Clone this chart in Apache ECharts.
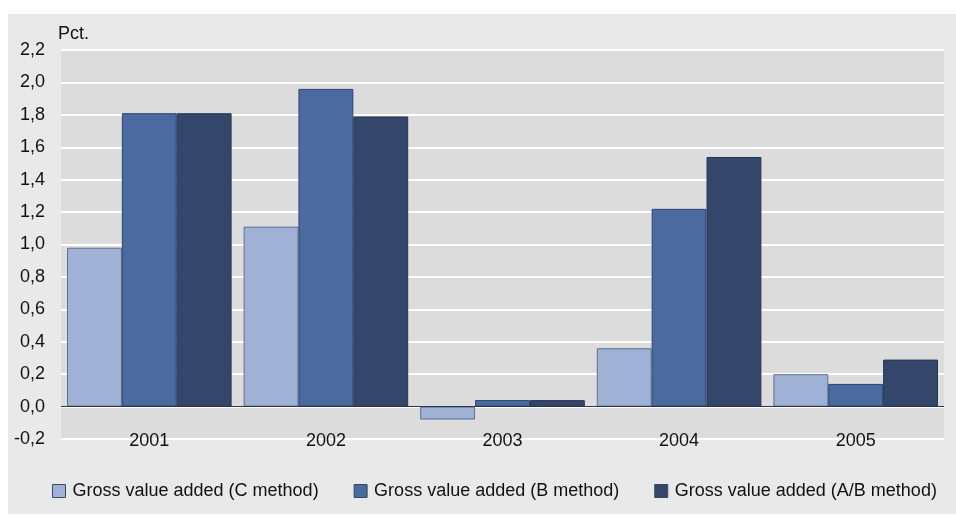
<!DOCTYPE html>
<html>
<head>
<meta charset="utf-8">
<script src="https://cdn.jsdelivr.net/npm/echarts@6/dist/echarts.min.js"></script>
<style>
  html, body { margin: 0; padding: 0; background: #ffffff; width: 956px; height: 516px; overflow: hidden; }
  #chart { position: absolute; left: 8px; top: 14px; width: 948px; height: 500px; background: #e9e9e9; }
</style>
</head>
<body>
<div id="chart"></div>
<script>
// Annual growth, per cent
const years = ['2001', '2002', '2003', '2004', '2005'];
const gvaC = [0.98, 1.11, -0.08, 0.36, 0.20];
const gvaB = [1.81, 1.96, 0.04, 1.22, 0.14];
const gvaAB = [1.81, 1.79, 0.04, 1.54, 0.29];
const seriesNames = [
  'Gross value added (C method)',
  'Gross value added (B method)',
  'Gross value added (A/B method)'
];
const yMin = -0.2, yMax = 2.2, yStep = 0.2;

const FONT = '"Liberation Sans", Arial, sans-serif';
const fills = ['#9fb1d5', '#4b6aa0', '#34476b'];
const edges = ['#5f6f92', '#2c4270', '#253657'];

const chart = echarts.init(document.getElementById('chart'), null, { renderer: 'canvas' });

function bar(name, data, i) {
  const s = {
    name: name,
    type: 'bar',
    data: data,
    barGap: '0%',
    barCategoryGap: '6.8%',
    itemStyle: { color: fills[i], borderColor: edges[i], borderWidth: 1 },
    emphasis: { disabled: true }
  };
  if (i === 0) {
    // dark zero line across the plot
    s.markLine = {
      silent: true,
      symbol: ['none', 'none'],
      label: { show: false },
      lineStyle: { color: '#2a3550', width: 1, type: 'solid' },
      data: [{ yAxis: 0 }]
    };
  }
  return s;
}

chart.setOption({
  animation: false,
  textStyle: { fontFamily: FONT },
  title: {
    text: 'Pct.',
    left: 45, top: 6,
    textStyle: { fontFamily: FONT, fontSize: 18, fontWeight: 'normal', color: '#111' }
  },
  grid: {
    left: 53, right: 12, top: 36, bottom: 75,
    show: true, backgroundColor: '#dcdcdc', borderWidth: 0
  },
  legend: {
    left: 39, top: 463,
    itemWidth: 13, itemHeight: 13, itemGap: 35,
    icon: 'rect',
    itemStyle: { borderColor: '#3a4766', borderWidth: 1 },
    textStyle: { fontFamily: FONT, fontSize: 18, color: '#111', padding: [0, 0, 0, 2] },
    data: seriesNames
  },
  xAxis: {
    type: 'category',
    data: years,
    axisLine: { show: false, onZero: false },
    axisTick: { show: false },
    axisLabel: { margin: -7, fontFamily: FONT, fontSize: 18, color: '#111' }
  },
  yAxis: {
    type: 'value',
    min: yMin, max: yMax, interval: yStep,
    axisLine: { show: false },
    axisTick: { show: false },
    splitLine: { lineStyle: { color: '#ffffff', width: 2 } },
    axisLabel: {
      margin: 16, fontFamily: FONT, fontSize: 18, color: '#111',
      formatter: v => v.toFixed(1).replace('.', ',')
    }
  },
  series: [
    bar(seriesNames[0], gvaC, 0),
    bar(seriesNames[1], gvaB, 1),
    bar(seriesNames[2], gvaAB, 2)
  ]
});
</script>
</body>
</html>
